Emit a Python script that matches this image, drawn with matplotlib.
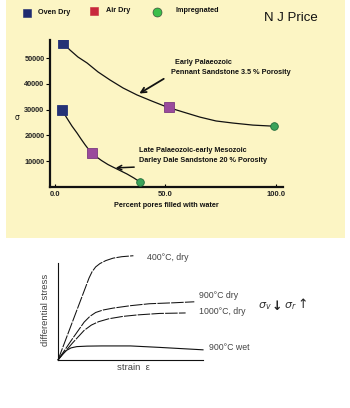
import matplotlib
matplotlib.use("Agg")
import matplotlib.pyplot as plt
from matplotlib.patches import Rectangle

# ---------------- data: strength vs. water saturation ----------------
sat_labels = ["Oven Dry", "Air Dry", "Impregnated"]

# Pennant Sandstone (3.5 % porosity)
pennant_pts_x = [3.6, 51.6, 99.1]
pennant_pts_y = [55800, 31000, 23600]
pennant_curve_x = [3.6, 6.8, 10.4, 14.5, 19.5, 24.9, 30.8, 37.1, 43.9, 50.7,
                   57.9, 65.6, 72.9, 80.5, 89.6, 98.6]
pennant_curve_y = [55800, 53100, 50400, 48100, 44600, 41500, 38400, 35700, 33300, 31000,
                   29100, 27100, 25600, 24800, 24000, 23600]

# Darley Dale Sandstone (20 % porosity)
darley_pts_x = [3.2, 16.7, 38.5]
darley_pts_y = [29800, 13200, 1940]
darley_curve_x = [3.2, 5.4, 7.7, 10.0, 11.8, 13.6, 15.1, 16.7, 18.6, 21.0,
                  24.0, 26.2, 29.4, 32.6, 35.7, 38.5]
darley_curve_y = [29800, 26700, 23600, 20900, 18600, 16400, 14700, 13200, 11800, 10300,
                  8700, 7750, 6400, 5040, 3500, 1940]

y_ticks = [10000, 20000, 30000, 40000, 50000]
x_ticks = [0, 50, 100]
x_tick_labels = ["0.0", "50.0", "100.0"]

# ---------------- data: stress-strain sketch ----------------
c400_strain = [0, 2.14, 2.35, 2.6, 2.9, 3.3, 3.8, 4.4, 5.2]
c400_stress = [0, 8.45, 9.1, 9.6, 9.95, 10.25, 10.5, 10.65, 10.75]
c900d_strain = [0, 1.0, 1.8, 2.2, 2.6, 3.1, 3.8, 5.0, 6.3, 8.0, 9.4]
c900d_stress = [0, 2.2, 3.9, 4.5, 4.9, 5.15, 5.35, 5.6, 5.8, 5.9, 6.0]
c1000_strain = [0, 1.0, 1.8, 2.3, 2.8, 3.5, 4.5, 5.5, 7.0, 8.8]
c1000_stress = [0, 1.75, 3.05, 3.6, 3.95, 4.25, 4.5, 4.65, 4.8, 4.85]
c900w_strain = [0, 0.3, 0.6, 0.9, 1.3, 2.0, 3.0, 5.0, 7.0, 10.0]
c900w_stress = [0, 0.6, 1.0, 1.25, 1.38, 1.43, 1.45, 1.45, 1.3, 1.05]

W, H = 350, 408
fig = plt.figure(figsize=(W / 100, H / 100), dpi=100)
fig.patch.set_facecolor("white")

# pixel-space canvas for the backdrop panel and free text
canvas = fig.add_axes([0, 0, 1, 1], zorder=0)
canvas.set_xlim(0, W)
canvas.set_ylim(H, 0)
canvas.axis("off")
canvas.add_patch(Rectangle((6, 0), 339, 238, facecolor="#fcf5c4", edgecolor="none"))

BOLD = dict(family="Liberation Sans", fontweight="bold", color="#111111")

# legend row
colors = {"Oven Dry": "#1f2b70", "Air Dry": "#c8283c", "Impregnated": "#3bbf4a"}
leg_items = [("Oven Dry", "s", 27, 38, 13), ("Air Dry", "s", 94, 106, 11),
             ("Impregnated", "o", 157, 175, 12)]
for name, mk, mx, tx, yy in leg_items:
    canvas.plot([mx], [yy], marker=mk, ms=5.5 if mk == "s" else 6.5,
                color=colors[name], mec="#333333" if mk == "o" else colors[name], mew=0.4)
    canvas.text(tx, yy - 1, name, fontsize=5.2, va="center", ha="left", **BOLD)

canvas.text(264, 18, "N J Price", fontsize=9.5, family="Liberation Sans",
            va="center", ha="left", color="#111111")

# ---------------- top chart ----------------
ax = fig.add_axes([50 / W, 1 - 187 / H, 233 / W, 147 / H], zorder=1)
ax.set_facecolor("none")
ax.set_xlim(-2.26, 103.2)
ax.set_ylim(0, 57000)
for s in ("top", "right"):
    ax.spines[s].set_visible(False)
for s in ("left", "bottom"):
    ax.spines[s].set_linewidth(1.6)
    ax.spines[s].set_color("#111111")

ax.plot(pennant_curve_x, pennant_curve_y, color="#111111", lw=0.9)
ax.plot(darley_curve_x, darley_curve_y, color="#111111", lw=0.9)

mk_style = [
    dict(marker="s", ms=7.5, color="#243276", mec="#243276"),
    dict(marker="s", ms=7.5, color="#9a4a9c", mec="#7a3a80"),
    dict(marker="o", ms=5.5, color="#3aa35a", mec="#1f6a3a"),
]
for i in range(3):
    ax.plot([pennant_pts_x[i]], [pennant_pts_y[i]], ls="none", mew=0.6, **mk_style[i], zorder=3)
    ax.plot([darley_pts_x[i]], [darley_pts_y[i]], ls="none", mew=0.6, **mk_style[i], zorder=3)

ax.set_yticks(y_ticks)
ax.set_yticklabels([str(v) for v in y_ticks])
ax.set_xticks(x_ticks)
ax.set_xticklabels(x_tick_labels)
ax.tick_params(axis="y", length=3, width=0.8, pad=1, labelsize=5.3, direction="out")
ax.tick_params(axis="x", length=2.5, width=0.8, pad=3, labelsize=5.5, direction="in")
for lab in ax.get_xticklabels() + ax.get_yticklabels():
    lab.set_fontfamily("Liberation Sans")
    lab.set_fontweight("bold")
    lab.set_color("#222222")

ax.set_xlabel("Percent pores filled with water", fontsize=5.2, labelpad=3, **BOLD)
canvas.text(17, 117, "σ", fontsize=5.5, ha="center", va="center", color="#111111")

ax.annotate("", xy=(37.1, 35700), xytext=(50.3, 42500),
            arrowprops=dict(arrowstyle="->", lw=1.3, color="#111111",
                            mutation_scale=9))
ax.annotate("", xy=(26.2, 7360), xytext=(37.1, 7750),
            arrowprops=dict(arrowstyle="->", lw=1.1, color="#111111",
                            mutation_scale=8))

canvas.text(175, 62, "Early Palaeozoic", fontsize=5.2, va="center", ha="left", **BOLD)
canvas.text(171, 73, "Pennant Sandstone 3.5 % Porosity", fontsize=5.2,
            va="center", ha="left", **BOLD)
canvas.text(139, 151, "Late Palaeozoic-early Mesozoic", fontsize=5.2,
            va="center", ha="left", **BOLD)
canvas.text(139, 161, "Darley Dale Sandstone 20 % Porosity", fontsize=5.2,
            va="center", ha="left", **BOLD)

# ---------------- bottom sketch ----------------
bx = fig.add_axes([58 / W, 1 - 360 / H, 145 / W, 97 / H], zorder=1)
bx.set_facecolor("none")
bx.set_xlim(0, 10)
bx.set_ylim(0, 10)
for s in ("top", "right"):
    bx.spines[s].set_visible(False)
for s in ("left", "bottom"):
    bx.spines[s].set_linewidth(0.8)
    bx.spines[s].set_color("#111111")
bx.set_xticks([])
bx.set_yticks([])

dash = (0, (12, 1.2))
bx.plot(c400_strain, c400_stress, color="#111111", lw=0.75, ls=dash, clip_on=False)
bx.plot(c900d_strain, c900d_stress, color="#111111", lw=0.75, ls=dash, clip_on=False)
bx.plot(c1000_strain, c1000_stress, color="#111111", lw=0.75, ls=dash, clip_on=False)
bx.plot(c900w_strain, c900w_stress, color="#111111", lw=0.8, clip_on=False)

GRAY = dict(family="Liberation Sans", color="#444444")
canvas.text(147, 257, "400°C, dry", fontsize=6.3, va="center", ha="left", **GRAY)
canvas.text(199, 295, "900°C dry", fontsize=6.3, va="center", ha="left", **GRAY)
canvas.text(199, 312, "1000°C, dry", fontsize=6.3, va="center", ha="left", **GRAY)
canvas.text(209, 348, "900°C wet", fontsize=6.3, va="center", ha="left", **GRAY)
canvas.text(117, 368, "strain  ε", fontsize=6.8, va="center", ha="left", **GRAY)
canvas.text(45, 310, "differential stress", fontsize=6.8, va="center", ha="center",
            rotation=90, **GRAY)
canvas.text(258, 306, r"$\sigma_v$", fontsize=8, va="center", ha="left", color="#333333")
canvas.text(272, 306, "↓", fontsize=9, va="center", ha="left", color="#222222",
            fontweight="bold")
canvas.text(284, 306, r"$\sigma_r$", fontsize=8, va="center", ha="left", color="#333333")
canvas.text(297, 304, "↑", fontsize=9, va="center", ha="left", color="#222222")

fig.savefig("out.png", dpi=100, facecolor="white")
